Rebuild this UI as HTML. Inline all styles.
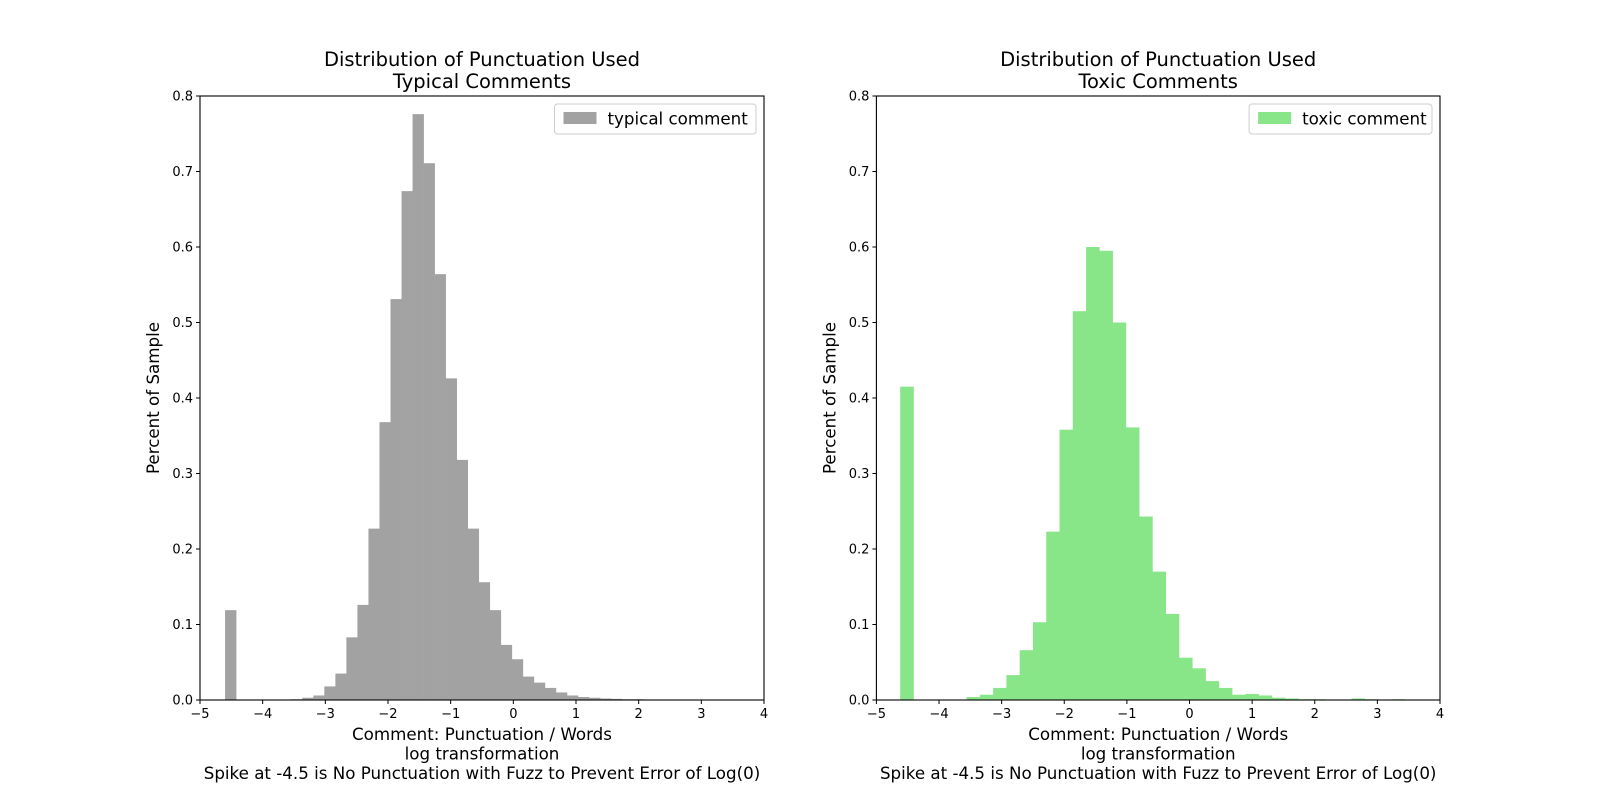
<!DOCTYPE html>
<html><head><meta charset="utf-8"><style>
body{margin:0;background:#fff}
svg{display:block;font-family:"DejaVu Sans","Liberation Sans",sans-serif}
</style></head><body>
<svg id="fig" width="1600" height="800" viewBox="0 0 1600 800"></svg>
<script>
const binsLeftStart = -4.60, binsLeftWidth = 0.176;
const typicalValues = [0.119,0,0,0,0,0,0.001,0.003,0.006,0.018,0.035,0.083,0.126,0.227,0.368,0.531,0.674,0.776,0.711,0.564,0.426,0.318,0.227,0.156,0.119,0.073,0.054,0.031,0.023,0.016,0.010,0.006,0.004,0.003,0.002,0.0015,0.001,0.001,0.0005,0,0,0,0,0,0,0,0,0,0,0];
const binsRightStart = -4.62, binsRightWidth = 0.212;
const toxicValues = [0.415,0,0,0,0,0.004,0.007,0.016,0.033,0.066,0.103,0.223,0.358,0.515,0.600,0.595,0.500,0.361,0.243,0.170,0.114,0.056,0.042,0.025,0.016,0.007,0.008,0.006,0.003,0.002,0.001,0.001,0.0005,0.0005,0.002,0.001,0,0.001,0,0];
const xTicks = [-5,-4,-3,-2,-1,0,1,2,3,4];
const yTicks = [0.0,0.1,0.2,0.3,0.4,0.5,0.6,0.7,0.8];
const titleLine1 = "Distribution of Punctuation Used";
const svg = document.getElementById('fig');
const NS = "http://www.w3.org/2000/svg";
function mk(tag, attrs, parent, text){const e=document.createElementNS(NS,tag);for(const k in attrs)e.setAttribute(k,attrs[k]);if(text!==undefined)e.textContent=text;(parent||svg).appendChild(e);return e;}
function panel(px0, px1, start, width, values, color, sub, legendText, key){
  const py0=96, py1=700;
  const xs=v=>px0+(v+5)/9*(px1-px0);
  const ys=v=>py1-v/0.8*(py1-py0);
  const g=mk('g',{});
  
  
  values.forEach((v,i)=>{
    if(v<=0)return;
    const x0=xs(start+i*width), x1=xs(start+(i+1)*width);
    const r=mk('rect',{x:x0,y:ys(v),width:x1-x0+0.3,height:py1-ys(v),fill:color},g);
    
    
  });
  const fr=mk('rect',{x:px0,y:py0,width:px1-px0,height:py1-py0,fill:'none',stroke:'#000','stroke-width':1.1},g);
  
  
  xTicks.forEach(t=>{
    const x=xs(t);
    mk('line',{x1:x,x2:x,y1:py1,y2:py1+4,stroke:'#000'},g);
    const tl=mk('text',{x:x,y:py1+18,'text-anchor':'middle','font-size':13},g,(t<0?'\u2212'+(-t):String(t)));
    
    
  });
  yTicks.forEach(t=>{
    const y=ys(t);
    mk('line',{x1:px0-4,x2:px0,y1:y,y2:y,stroke:'#000'},g);
    const tl=mk('text',{x:px0-7,y:y+4.5,'text-anchor':'end','font-size':13},g,t.toFixed(1));
    
    
  });
  const cx=(px0+px1)/2;
  const t1=mk('text',{x:cx,y:66,'text-anchor':'middle','font-size':19.5},g,titleLine1);
  
  
  const t2=mk('text',{x:cx,y:88,'text-anchor':'middle','font-size':19.5},g,sub);
  
  
  const xl=["Comment: Punctuation / Words","log transformation","Spike at -4.5 is No Punctuation with Fuzz to Prevent Error of Log(0)"];
  xl.forEach((s,i)=>{
    const e=mk('text',{x:cx,y:740+i*19.5,'text-anchor':'middle','font-size':16.7},g,s);
    
    
  });
  const yl=mk('text',{x:0,y:0,'text-anchor':'middle','font-size':16.7,transform:`translate(${px0-41},${(py0+py1)/2}) rotate(-90)`},g,"Percent of Sample");
  
  
  const lw = legendText.length*9.3+62;
  const lx = px1-8-lw;
  const lg=mk('g',{},g);
  
  
  mk('rect',{x:lx,y:104,width:lw,height:30,rx:3,fill:'#fff',stroke:'#ccc'},lg);
  mk('rect',{x:lx+9,y:112,width:33,height:12,fill:color},lg);
  mk('text',{x:lx+53,y:124.5,'font-size':16.7},lg,legendText);
}
panel(200,764,binsLeftStart,binsLeftWidth,typicalValues,'#a2a2a2','Typical Comments','typical comment','typical');
panel(876.4,1440,binsRightStart,binsRightWidth,toxicValues,'#88e588','Toxic Comments','toxic comment','toxic');
</script>
</body></html>
